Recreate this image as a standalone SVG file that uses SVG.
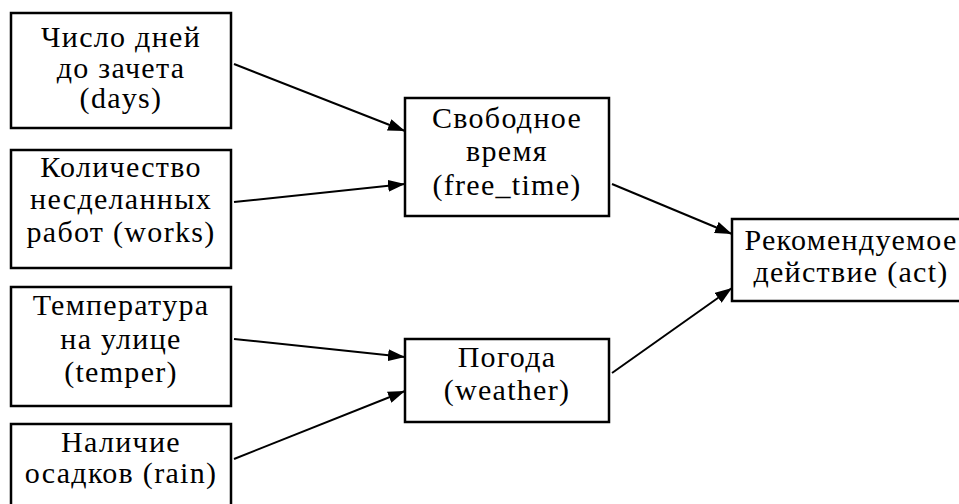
<svg xmlns="http://www.w3.org/2000/svg" width="959" height="504" viewBox="0 0 959 504">
  <style>
    .box { fill: #ffffff; stroke: #000000; stroke-width: 2.5; }
    .lbl { font-size: 30px; letter-spacing: 1.3px; fill: #000000; text-anchor: middle; }
    .edge { stroke: #000000; stroke-width: 2; fill: none; marker-end: url(#arrow); }
  </style>
  <defs>
    <marker id="arrow" viewBox="0 0 17 12" refX="17" refY="6" markerWidth="17" markerHeight="12" markerUnits="userSpaceOnUse" orient="auto">
      <path d="M0,0 L17,6 L0,12 Z" fill="#000000"/>
    </marker>
  </defs>
  <rect width="959" height="504" fill="#ffffff"/>

  <g id="connectors">
    <line class="edge" x1="234" y1="64" x2="405" y2="131"/>
    <line class="edge" x1="234" y1="202" x2="405" y2="184"/>
    <line class="edge" x1="234" y1="339" x2="405" y2="357"/>
    <line class="edge" x1="234" y1="459" x2="405" y2="391"/>
    <line class="edge" x1="612" y1="184" x2="732" y2="234"/>
    <line class="edge" x1="612" y1="373" x2="732" y2="288"/>
  </g>

  <g font-family="'Liberation Serif', 'Times New Roman', 'DejaVu Serif', serif">
  <g id="days">
    <rect class="box" x="11" y="13" width="220" height="115"/>
    <text class="lbl" x="121" y="47">Число дней</text>
    <text class="lbl" x="121" y="78">до зачета</text>
    <text class="lbl" x="121" y="108">(days)</text>
  </g>

  <g id="works">
    <rect class="box" x="11" y="150" width="220" height="118"/>
    <text class="lbl" x="121" y="177">Количество</text>
    <text class="lbl" x="121" y="209">несделанных</text>
    <text class="lbl" x="121" y="242">работ (works)</text>
  </g>

  <g id="temper">
    <rect class="box" x="11" y="287" width="220" height="119"/>
    <text class="lbl" x="121" y="315">Температура</text>
    <text class="lbl" x="121" y="349">на улице</text>
    <text class="lbl" x="121" y="382">(temper)</text>
  </g>

  <g id="rain">
    <rect class="box" x="11" y="424" width="220" height="100"/>
    <text class="lbl" x="121" y="452">Наличие</text>
    <text class="lbl" x="121" y="483">осадков (rain)</text>
  </g>

  <g id="free_time">
    <rect class="box" x="405" y="98" width="204" height="118"/>
    <text class="lbl" x="507" y="128">Свободное</text>
    <text class="lbl" x="507" y="161">время</text>
    <text class="lbl" x="507" y="195">(free_time)</text>
  </g>

  <g id="weather">
    <rect class="box" x="405" y="339" width="204" height="83"/>
    <text class="lbl" x="507" y="367">Погода</text>
    <text class="lbl" x="507" y="400">(weather)</text>
  </g>

  <g id="act">
    <rect class="box" x="732" y="219" width="240" height="82"/>
    <text class="lbl" x="851" y="250">Рекомендуемое</text>
    <text class="lbl" x="851" y="282">действие (act)</text>
  </g>
  </g>
</svg>
